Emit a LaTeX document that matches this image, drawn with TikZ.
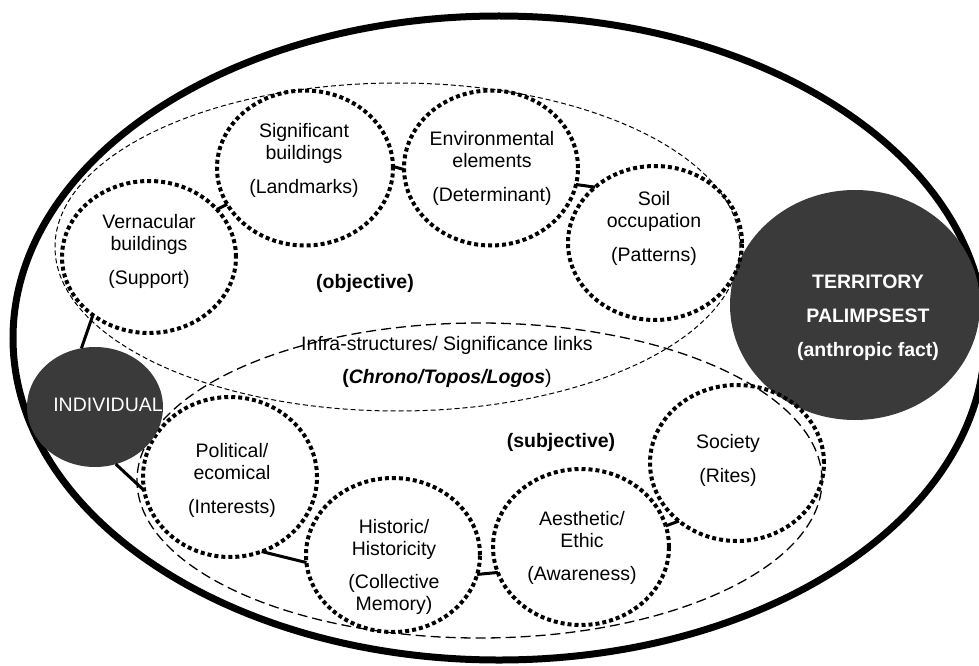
\documentclass[tikz,border=0pt]{standalone}
\usepackage{fontspec}
\setmainfont{Liberation Sans}
\usetikzlibrary{shapes.geometric}
\definecolor{darkfill}{RGB}{58,58,58}
\begin{document}
\begin{tikzpicture}[x=1pt,y=-1pt,
  oval/.style={ellipse, draw, inner sep=0pt, outer sep=0pt},
  dotring/.style={oval, line width=4pt, dash pattern=on 4pt off 3pt},
  finedash/.style={oval, line width=1pt, dash pattern=on 5pt off 3pt},
  meddash/.style={oval, line width=1.3pt, dash pattern=on 10pt off 5pt},
  darkdisc/.style={ellipse, fill=darkfill, draw=none, inner sep=0pt, outer sep=0pt},
  link/.style={line width=3pt},
  lbl/.style={inner sep=0pt, anchor=base, font=\fontsize{19.5}{22}\selectfont},
  whitelbl/.style={lbl, text=white},
]
\useasboundingbox (0,0) rectangle (979,666);

% outer frame
\node[oval, line width=7pt, minimum width=972pt, minimum height=644pt] (outer) at (499,338) {};

% dashed groupings
\node[finedash, minimum width=685pt, minimum height=328pt] (objzone) at (397.5,247) {};
\node[meddash, minimum width=685pt, minimum height=315pt] (subjzone) at (479.5,480.5) {};

% territory
\node[darkdisc, minimum width=250pt, minimum height=230pt] (terr) at (855,305) {};

% dotted circles
\node[dotring, minimum width=174pt, minimum height=152pt] (vern) at (149,257) {};
\node[dotring, minimum width=176pt, minimum height=155pt] (sig) at (305,168) {};
\node[dotring, minimum width=174pt, minimum height=155pt] (env) at (491,168) {};
\node[dotring, minimum width=174pt, minimum height=154pt] (soil) at (655,243) {};
\node[dotring, minimum width=174pt, minimum height=160pt] (pol) at (230,477) {};
\node[dotring, minimum width=174pt, minimum height=154pt] (hist) at (393,555) {};
\node[dotring, minimum width=176pt, minimum height=156pt] (aes) at (581,547) {};
\node[dotring, minimum width=174pt, minimum height=156pt] (soc) at (737,463) {};

% individual
\node[darkdisc, minimum width=136pt, minimum height=120pt] (indiv) at (95,407) {};

% connectors
\draw[link] (vern.35) -- (sig.205);
\draw[link] (sig.1) -- (env.181);
\draw[link] (env.-11) -- (soil.137);
\draw[link] (vern.226) -- (indiv.103);
\draw[link] (indiv.-70) -- (pol.189);
\draw[link] (pol.-67) -- (hist.185);
\draw[link] (hist.-13) -- (aes.197);
\draw[link] (aes.14) -- (soc.225);

% labels
\node[lbl] (tvern) at (149,228) {\begin{tabular}[t]{@{}c@{}}Vernacular\\buildings\\[12pt](Support)\end{tabular}};
\node[lbl] (tsig) at (304,137) {\begin{tabular}[t]{@{}c@{}}Significant\\buildings\\[12pt](Landmarks)\end{tabular}};
\node[lbl] (tenv) at (492,145) {\begin{tabular}[t]{@{}c@{}}Environmental\\elements\\[12pt](Determinant)\end{tabular}};
\node[lbl] (tsoil) at (654,205) {\begin{tabular}[t]{@{}c@{}}Soil\\occupation\\[12pt](Patterns)\end{tabular}};
\node[lbl] (tpol) at (232,457) {\begin{tabular}[t]{@{}c@{}}Political/\\ecomical\\[12pt](Interests)\end{tabular}};
\node[lbl] (thist) at (394,533) {\begin{tabular}[t]{@{}c@{}}Historic/\\Historicity\\[11pt](Collective\\Memory)\end{tabular}};
\node[lbl] (taes) at (582,525) {\begin{tabular}[t]{@{}c@{}}Aesthetic/\\Ethic\\[11pt](Awareness)\end{tabular}};
\node[lbl] (tsoc) at (728,448) {\begin{tabular}[t]{@{}c@{}}Society\\[12pt](Rites)\end{tabular}};

\node[lbl, font=\fontsize{19.5}{22}\selectfont\bfseries] (tobj) at (365,288) {(objective)};
\node[lbl, font=\fontsize{19.5}{22}\selectfont\bfseries] (tsubj) at (561,447) {(subjective)};
\node[lbl] (tinfra) at (447,350) {Infra-structures/ Significance links};
\node[lbl] (tchrono) at (447,383) {\textbf{(}\textbf{\textit{Chrono/Topos/Logos}})};

\node[whitelbl, font=\fontsize{19.5}{34}\selectfont\bfseries] (tterr) at (868,288) {\begin{tabular}[t]{@{}c@{}}TERRITORY\\PALIMPSEST\\(anthropic fact)\end{tabular}};
\node[whitelbl] (tind) at (108,411) {INDIVIDUAL};
\end{tikzpicture}
\end{document}
